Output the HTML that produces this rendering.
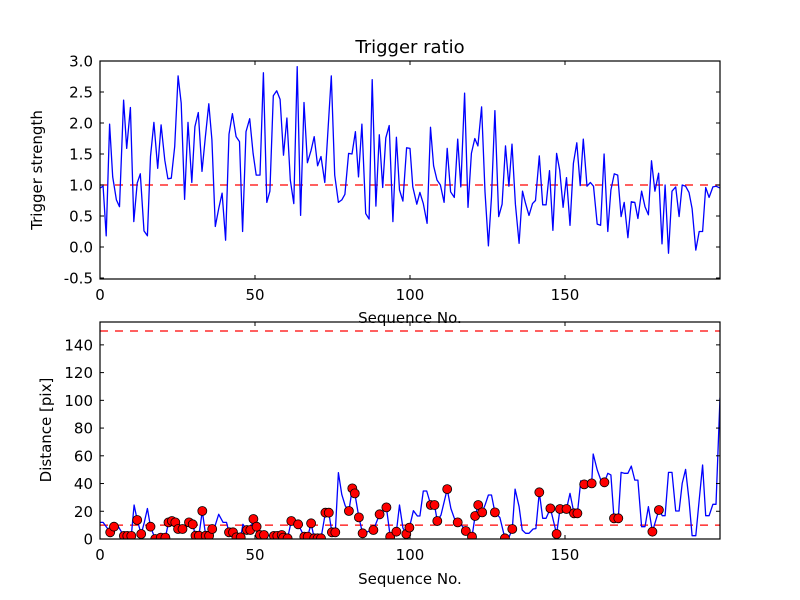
<!DOCTYPE html>
<html><head><meta charset="utf-8"><style>
html,body{margin:0;padding:0;background:#fff;}
svg{display:block;font-family:"DejaVu Sans","Liberation Sans",sans-serif;}
</style></head><body>
<svg id="chart" width="800" height="600" viewBox="0 0 800 600"></svg>
<script>
// ---- Top chart data (sequence no., trigger strength) ----
const seqTop = [0,1,2,3.1,4.1,5.3,6.3,7.6,8.6,9.8,10.9,12,13,14.2,15.3,16.3,17.4,18.6,19.7,20.9,21.9,23,24.1,25.2,26.2,27.3,28.4,29.6,30.6,31.7,32.9,34,35.1,36.1,37.2,38.3,39.4,40.5,41.6,42.7,43.9,45,46,47.1,48.3,49.4,50.4,51.6,52.7,53.8,54.8,55.9,57,58.1,59.2,60.3,61.4,62.5,63.6,64.7,65.8,66.9,68.1,69.1,70.2,71.3,72.5,74.6,75.7,76.9,78,79,80.2,81.3,82.4,83.4,84.5,85.7,86.8,87.8,89,90.1,91.2,92.2,93.3,94.5,95.6,96.6,97.7,98.9,100,100.9,102.2,103.2,104.3,105.5,106.6,107.6,108.7,109.8,111,112,113.1,114.3,115.4,116.4,117.6,118.7,119.8,120.9,121.9,123.1,124.2,125.3,126.3,127.4,128.6,129.7,130.8,131.9,132.9,134,135.2,136.3,137.3,138.4,139.5,140.5,141.7,142.8,143.9,145,146.1,147.3,148.3,149.4,150.5,151.6,152.7,153.8,154.9,155.9,157.1,158.2,159.2,160.4,161.5,162.6,163.8,164.8,165.9,167,168.1,169.1,170.3,171.4,172.5,173.5,174.7,175.8,176.9,177.9,179,180.2,181.3,182.3,183.4,184.5,185.7,186.8,187.8,188.9,190,191,192.2,193.3,194.4,195.4,196.5,197.7,198.7,200];
const strength = [0.95,0.98,0.18,1.98,1.13,0.76,0.65,2.37,1.59,2.25,0.41,1.03,1.18,0.26,0.18,1.46,2.01,1.27,1.97,1.40,1.10,1.11,1.62,2.76,2.32,0.77,2.01,1.04,1.94,2.17,1.22,1.78,2.31,1.73,0.33,0.62,0.87,0.11,1.82,2.15,1.78,1.70,0.25,1.86,2.07,1.51,1.16,1.16,2.81,0.72,0.90,2.44,2.52,2.38,1.48,2.08,1.08,0.70,2.91,0.51,2.33,1.36,1.56,1.78,1.31,1.46,1.04,2.76,1.16,0.72,0.76,0.85,1.51,1.50,1.86,1.13,1.98,0.54,0.45,2.70,0.66,1.81,0.96,1.76,1.96,0.41,1.77,0.92,0.74,1.60,1.59,0.97,0.69,0.88,0.70,0.38,1.93,1.31,1.08,1.00,0.72,1.59,0.89,0.80,1.74,0.97,2.48,0.64,1.51,1.75,1.63,2.26,0.89,0.02,0.81,2.20,0.49,0.69,1.63,0.98,1.66,0.69,0.06,0.90,0.70,0.51,0.70,0.75,1.47,0.68,0.68,1.23,0.27,1.51,1.24,0.64,1.12,0.35,1.35,1.68,0.99,1.74,0.98,1.04,0.98,0.37,0.35,1.50,0.25,0.92,1.18,1.16,0.49,0.72,0.15,0.73,0.72,0.46,0.90,0.65,0.52,1.39,0.90,1.19,0.05,1.00,-0.10,0.90,0.97,0.49,1.00,0.98,0.88,0.62,-0.05,0.25,0.25,0.96,0.80,0.97,0.98,0.95];
const topThreshold = 1.0;
const topYTicks = [-0.5,0.0,0.5,1.0,1.5,2.0,2.5,3.0];
const xTicks = [0,50,100,150];

// ---- Bottom chart data ----
const seqBot = [0,1,3.3,4.5,5.6,7.7,8.8,10.1,11,12,13.3,14.3,15.3,16.3,17.8,19.6,21.1,22.1,23.2,24.3,25.2,26.6,27.6,28.7,29.9,30.8,31.9,33,34.1,35.2,36.2,37.2,38.3,39.7,40.8,41.6,42.9,44,45.4,46.1,47.4,48.5,49.5,50.5,51.6,52.9,54.5,56.1,57.2,58.6,59.1,60.5,61.7,62.8,63.9,65.9,67,68.1,69.1,70.2,71.3,72.7,73.8,74.8,75.9,76.9,78,79.1,80.3,81.4,82.2,83.5,84.7,86,87.1,88.2,90.2,91.3,92.4,93.6,95.6,96.6,97.7,98.8,99.8,101.1,102.4,103.2,104.3,105.4,106.7,107.9,108.8,110,112,113.2,114.3,115.4,116.6,118,119,120,121,122,123.3,124.3,125.3,126.3,127.4,129,130.6,131.8,133,133.9,135.2,136.2,137.3,138.4,139.7,140.6,141.7,142.8,143.9,145.3,147.3,148.4,150.5,151.6,152.9,154,155.1,156.2,158.6,159.1,160.4,161.5,162.7,163.8,164.8,165.8,167.2,168.1,169.1,170.3,171.4,172.5,173.5,174.7,175.8,176.9,178.2,180.3,181.4,182.3,183.4,184.5,185.7,186.8,187.8,188.9,190,191,192.2,193.3,194.4,195.4,196.5,197.7,198.7,200];
const distance = [12,12,4.8,8.9,10,2.2,2.2,2.2,24.5,13.7,3.6,12,22,8.9,0,1,1,12,13,12,7.2,7.2,10,12,10.6,2.4,2.4,20.2,2.4,2.4,7.2,10,17.8,12,12,4.8,4.8,1.2,1.2,10.6,6.5,6.5,14.4,8.9,2.9,2.9,2.5,2.2,2.2,2.9,1,0.5,13,11,10.6,1.7,1.7,11.3,0.5,0.5,0.5,19,19,4.8,4.8,47.8,32,24,20.2,36.5,32.9,15.6,4.1,5,6,6.5,17.8,20,22.8,1.7,5.3,24.5,8,3.6,8.2,20.4,16.6,16.6,34.6,34.6,24.5,24.5,13,17.3,36,22,15,12,10,5.8,3,1.7,16.6,24.5,19.2,25,31.7,31.7,19.2,15.4,0.5,0.5,7.2,36,23.3,6.5,4.1,4.1,7.2,7.5,33.7,14.9,14.9,22.1,3.6,21.6,21.6,32.9,18.5,18.5,42,39.4,40.1,61.3,49.8,43,40.9,47.4,46.2,14.9,14.9,48,47.4,47.4,52.6,42.5,42.5,8.9,8.9,23.3,5.3,20.9,16.8,16.8,48,48,20.2,20.2,40.1,50.2,28.1,2.4,2.4,28.1,53.4,16.8,16.8,25,25,102];
const isMarked = [0,0,1,1,0,1,1,1,0,1,1,0,0,1,1,1,1,1,1,1,1,1,0,1,1,1,1,1,1,1,1,0,0,0,0,1,1,1,1,0,1,1,1,1,1,1,0,1,1,1,1,1,1,0,1,1,1,1,1,1,1,1,1,1,1,0,0,0,1,1,1,1,1,0,0,1,1,0,1,1,1,0,0,1,1,0,0,0,0,0,1,1,1,0,1,0,0,1,0,1,0,1,1,1,1,0,0,0,1,0,1,0,1,0,0,0,0,0,0,0,1,0,0,1,1,1,1,0,1,1,0,1,1,0,0,0,1,0,0,1,1,0,0,0,0,0,0,0,0,0,1,1,0,0,0,0,0,0,0,0,0,0,0,0,0,0,0,0,0,0,0];
const botThresholds = [10,150];
const botYTicks = [0,20,40,60,80,100,120,140];

const NS = "http://www.w3.org/2000/svg";
const svg = document.getElementById('chart');
function mk(tag, attrs, parent) {
  const e = document.createElementNS(NS, tag);
  for (const k in attrs) e.setAttribute(k, attrs[k]);
  (parent || svg).appendChild(e);
  return e;
}
const X0 = 100, X1 = 720, XMAX = 200;
const xs = v => X0 + v * (X1 - X0) / XMAX;
const yTop = v => 185 - (v - 1) * 62;
const yBot = v => 539 - v * 208 / 150;

function drawAxes(name, top, bottom, yTicks, yFn, fmt) {
  const g = mk('g', {});
  
  
  xTicks.forEach(t => {
    const x = xs(t);
    const tk = mk('line', {x1:x, x2:x, y1:bottom, y2:bottom-4, stroke:'#000', 'stroke-width':1}, g);
    
    
    mk('line', {x1:x, x2:x, y1:top, y2:top+4, stroke:'#000', 'stroke-width':1}, g);
    const lb = mk('text', {x:x, y:bottom+21, 'text-anchor':'middle', 'font-size':15, fill:'#000'}, g);
    lb.textContent = t;
    
    
  });
  yTicks.forEach(t => {
    const y = yFn(t);
    const tk = mk('line', {x1:X0, x2:X0+4, y1:y, y2:y, stroke:'#000', 'stroke-width':1}, g);
    
    
    mk('line', {x1:X1, x2:X1-4, y1:y, y2:y, stroke:'#000', 'stroke-width':1}, g);
    const lb = mk('text', {x:X0-7, y:y+5.5, 'text-anchor':'end', 'font-size':15, fill:'#000'}, g);
    lb.textContent = fmt(t);
    
    
  });
}

// ---- Top chart ----
const topClip = mk('clipPath', {id:'ct'});
mk('rect', {x:X0, y:61, width:X1-X0, height:218}, topClip);
const thrTop = mk('line', {x1:X0, x2:X1, y1:yTop(topThreshold), y2:yTop(topThreshold), stroke:'#ff0000', 'stroke-width':1.2, 'stroke-dasharray':'8,7'});


const lineTop = mk('polyline', {points: seqTop.map((s,i)=>xs(s).toFixed(1)+','+yTop(strength[i]).toFixed(1)).join(' '), fill:'none', stroke:'#0000ff', 'stroke-width':1.3, 'stroke-linejoin':'round', 'clip-path':'url(#ct)'});


const frameTop = mk('rect', {x:X0, y:61, width:X1-X0, height:218, fill:'none', stroke:'#000', 'stroke-width':1.2});


drawAxes('top-axes', 61, 279, topYTicks, yTop, t => t.toFixed(1));
const title = mk('text', {x:410, y:53, 'text-anchor':'middle', 'font-size':18, fill:'#000'});
title.textContent = 'Trigger ratio';


const ylT = mk('text', {x:0, y:0, 'text-anchor':'middle', 'font-size':15, fill:'#000', transform:'translate(42,170) rotate(-90)'});
ylT.textContent = 'Trigger strength';


const xlT = mk('text', {x:410, y:323, 'text-anchor':'middle', 'font-size':15, fill:'#000'});
xlT.textContent = 'Sequence No.';



// ---- Bottom chart ----
const botClip = mk('clipPath', {id:'cb'});
mk('rect', {x:X0, y:322, width:X1-X0, height:217}, botClip);
botThresholds.forEach(v => {
  const l = mk('line', {x1:X0, x2:X1, y1:yBot(v), y2:yBot(v), stroke:'#ff0000', 'stroke-width':1.2, 'stroke-dasharray':'8,7'});
  
  
});
const lineBot = mk('polyline', {points: seqBot.map((s,i)=>xs(s).toFixed(1)+','+yBot(distance[i]).toFixed(1)).join(' '), fill:'none', stroke:'#0000ff', 'stroke-width':1.3, 'stroke-linejoin':'round', 'clip-path':'url(#cb)'});


const mg = mk('g', {'clip-path':'url(#cb)'});
seqBot.forEach((s,i) => {
  if (!isMarked[i]) return;
  const c = mk('circle', {cx:xs(s).toFixed(1), cy:yBot(distance[i]).toFixed(1), r:4.5, fill:'#ff0000', stroke:'#000', 'stroke-width':0.8}, mg);
  
  
});
const frameBot = mk('rect', {x:X0, y:322, width:X1-X0, height:217, fill:'none', stroke:'#000', 'stroke-width':1.2});


drawAxes('bottom-axes', 322, 539, botYTicks, yBot, t => String(t));
const ylB = mk('text', {x:0, y:0, 'text-anchor':'middle', 'font-size':15, fill:'#000', transform:'translate(51,430) rotate(-90)'});
ylB.textContent = 'Distance [pix]';


const xlB = mk('text', {x:410, y:584, 'text-anchor':'middle', 'font-size':15, fill:'#000'});
xlB.textContent = 'Sequence No.';


</script>
</body></html>
